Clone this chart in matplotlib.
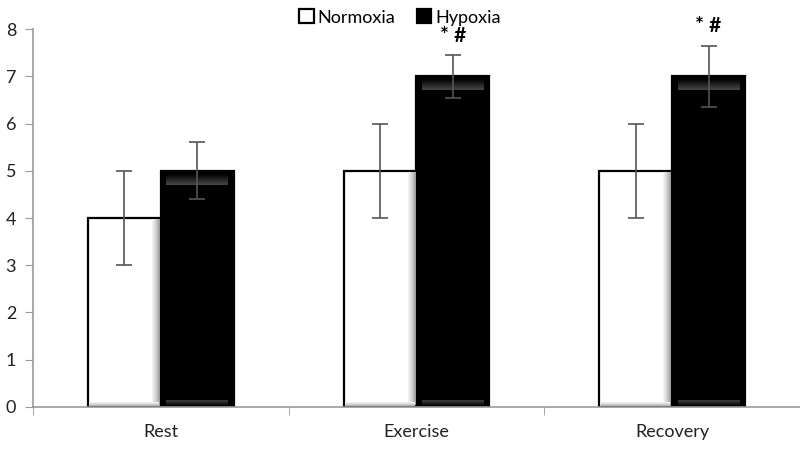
import numpy as np
import matplotlib.pyplot as plt

plt.rcParams['font.family'] = ['Lato', 'DejaVu Sans']

# data
categories = ['Rest', 'Exercise', 'Recovery']
normoxia = [4, 5, 5]
normoxia_err = [1, 1, 1]
hypoxia = [5, 7, 7]
hypoxia_err = [0.6, 0.45, 0.65]
marks = ['', '* #', '* #']

fig = plt.figure(figsize=(8, 4.51), dpi=100)
ax = fig.add_axes([0.041, 0.0976, 0.959, 0.838])

x = np.arange(len(categories))
w = 0.285

b1 = ax.bar(x - w / 2, normoxia, w, color='white', edgecolor='black', linewidth=1.6,
            label='Normoxia', zorder=2)
b2 = ax.bar(x + w / 2, hypoxia, w, color='black', edgecolor='black', linewidth=1.6,
            label='Hypoxia', zorder=2)

# soft bevel shading like the original office-style bars
grad = np.linspace(0, 1, 60).reshape(1, -1)
for r in b1:
    x0, bw, h = r.get_x(), r.get_width(), r.get_height()
    ax.imshow(grad, extent=(x0 + bw * 0.88, x0 + bw * 0.985, 0.04, h - 0.04), aspect='auto',
              cmap='Greys', vmin=-0.2, vmax=2.2, zorder=2.5)
    ax.imshow(grad.T, extent=(x0 + bw * 0.03, x0 + bw * 0.97, 0.02, 0.1), aspect='auto',
              cmap='Greys', vmin=-0.2, vmax=2.5, zorder=2.5)
for r in b2:
    x0, bw, h = r.get_x(), r.get_width(), r.get_height()
    ax.imshow(grad.T, extent=(x0 + bw * 0.08, x0 + bw * 0.92, h - 0.3, h - 0.08), aspect='auto',
              cmap='gray', vmin=0, vmax=3.5, zorder=2.5)
    ax.imshow(grad.T[::-1], extent=(x0 + bw * 0.08, x0 + bw * 0.92, 0.03, 0.15), aspect='auto',
              cmap='gray', vmin=0, vmax=4, zorder=2.5)

ax.errorbar(x - w / 2, normoxia, yerr=normoxia_err, fmt='none', ecolor='#555555',
            elinewidth=1.2, capsize=6, capthick=1.2, zorder=3)
ax.errorbar(x + w / 2, hypoxia, yerr=hypoxia_err, fmt='none', ecolor='#555555',
            elinewidth=1.2, capsize=6, capthick=1.2, zorder=3)

for xi, h, e, m in zip(x, hypoxia, hypoxia_err, marks):
    if m:
        ax.text(xi + w / 2, h + e + 0.2, m, ha='center', va='bottom', fontsize=15,
                fontweight='bold', color='black')

ax.set_xlim(-0.5, 2.5)
ax.set_ylim(0, 8)
ax.set_yticks(range(0, 9))
ax.set_xticks(x)
ax.set_xticklabels(categories, fontsize=13, color='#222222')
ax.set_xticks([-0.5, 0.5, 1.5, 2.5], minor=True)
ax.tick_params(axis='x', which='major', length=0, pad=12)
ax.tick_params(axis='x', which='minor', length=6, color='#999999', direction='out')
ax.tick_params(axis='y', length=6, color='#999999', labelsize=13, labelcolor='#222222', pad=6)

for s in ['top', 'right']:
    ax.spines[s].set_visible(False)
ax.spines['left'].set_color('#999999')
ax.spines['bottom'].set_color('#999999')
ax.spines['left'].set_linewidth(1.2)
ax.spines['bottom'].set_linewidth(1.2)

fig.legend(handles=[b1, b2], loc='upper center', bbox_to_anchor=(0.5, 1.015), ncol=2,
           frameon=False, fontsize=13, handlelength=0.8, handleheight=0.8,
           handletextpad=0.2, columnspacing=1.2)

fig.savefig('out.png', dpi=100)
